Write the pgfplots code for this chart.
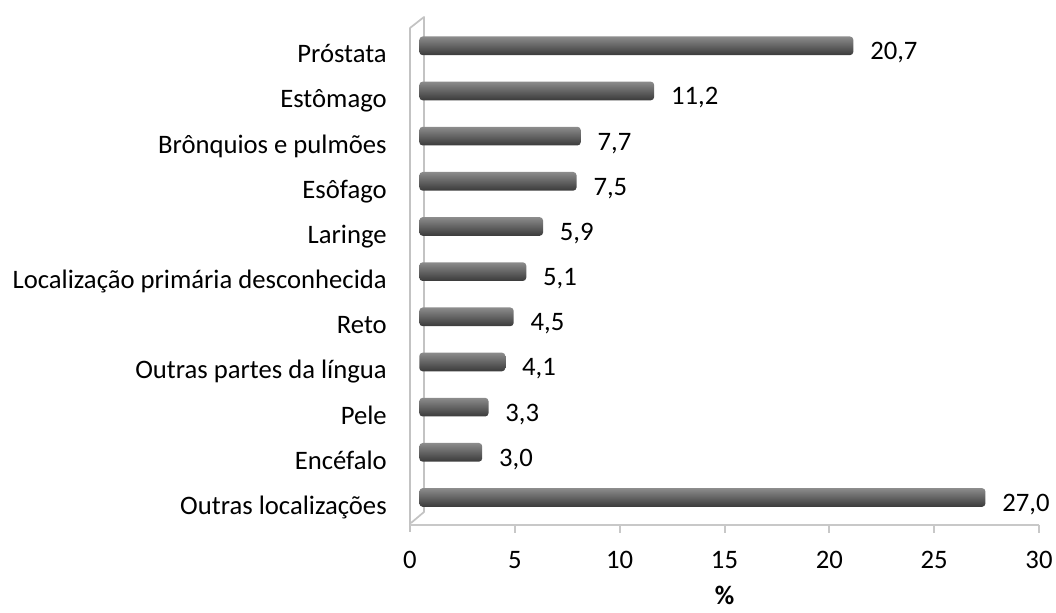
\documentclass[border=0pt]{standalone}
\usepackage{pgfplots}
\pgfplotsset{compat=1.18}
\usepackage{fontspec}
\setmainfont{Carlito}
\definecolor{barTop}{RGB}{140,140,140}
\definecolor{barMid}{RGB}{102,102,102}
\definecolor{barBot}{RGB}{58,58,58}
\definecolor{wallc}{RGB}{195,195,195}
\definecolor{floorc}{RGB}{200,200,200}
\newcommand{\lblfont}{\fontsize{20}{24}\selectfont}
\begin{document}
\begin{tikzpicture}
% wall and floor
\draw[wallc, line width=1.3pt, line join=round] (0,-5.25pt) -- (0,372.75pt) -- (10.5pt,381pt) -- (10.5pt,9.75pt) -- (0.75pt,1.5pt);
\draw[floorc, line width=2.2pt] (0,0) -- (471.75pt,0);
\foreach \i in {1,...,6} \draw[floorc, line width=1.5pt] (\i*78.625pt,0) -- ++(0,-6pt);
\begin{axis}[
  at={(0,0)}, anchor=south west,
  scale only axis, width=471.75pt, height=381.75pt,
  xbar, bar width=14pt, bar shift=0pt,
  xmin=0, xmax=30, ymin=-0.609, ymax=10.66,
  xtick={0,5,...,30}, ytick={0,...,10},
  yticklabels={Outras localizações, Encéfalo, Pele, Outras partes da língua, Reto, Localização primária desconhecida, Laringe, Esôfago, Brônquios e pulmões, Estômago, Próstata},
  major tick length=0pt,
  axis line style={draw=none},
  tick label style={font=\lblfont},
  xticklabel style={anchor=base, inner sep=0pt, yshift=-33pt},
  yticklabel style={anchor=base east, inner sep=0pt, xshift=-17.25pt, yshift=-12.75pt},
  /pgf/number format/assume math mode=true,
  point meta=x,
  nodes near coords={\pgfmathprintnumber[fixed,fixed zerofill,precision=1,use comma,assume math mode=true]{\pgfplotspointmeta}},
  nodes near coords style={anchor=base west, inner sep=0pt, xshift=12.5pt, yshift=-10.5pt, font=\lblfont, text=black},
  xlabel={\textbf{\%}},
  xlabel style={at={(axis description cs:0.5,0)}, anchor=center, inner sep=0pt, yshift=-53pt, font=\lblfont},
  clip=false,
  br/.style={xshift=7pt, draw=none, top color=barTop, middle color=barMid, bottom color=barBot, rounded corners=2.5pt},
]
\addplot[br] coordinates {(27.0,0)};
\addplot[br] coordinates {(3.0,1)};
\addplot[br] coordinates {(3.3,2)};
\addplot[br] coordinates {(4.1,3)};
\addplot[br] coordinates {(4.5,4)};
\addplot[br] coordinates {(5.1,5)};
\addplot[br] coordinates {(5.9,6)};
\addplot[br] coordinates {(7.5,7)};
\addplot[br] coordinates {(7.7,8)};
\addplot[br] coordinates {(11.2,9)};
\addplot[br] coordinates {(20.7,10)};
\end{axis}
\pgfresetboundingbox
\path[use as bounding box] (-307.5pt,-66pt) rectangle (484.5pt,393.75pt);
\end{tikzpicture}
\end{document}
